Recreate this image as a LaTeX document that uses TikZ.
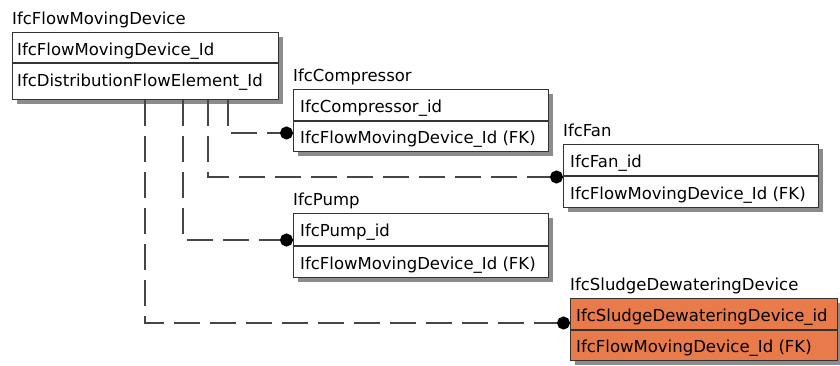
\documentclass[tikz,border=0pt]{standalone}
\usepackage{fontspec}
\setmainfont{DejaVu Sans}
\usetikzlibrary{arrows.meta,shadows}
\definecolor{entorange}{RGB}{233,122,74}
\definecolor{relgray}{RGB}{70,70,70}
\begin{document}
\begin{tikzpicture}[x=1pt,y=-1pt,
  font=\fontsize{16.5}{20}\selectfont,
  entbox/.style={draw=black!80, line width=1.4pt, fill=white, anchor=north west, inner sep=0pt,
    drop shadow={shadow xshift=4pt, shadow yshift=-4pt, fill=black!45, opacity=1}},
  entfield/.style={anchor=base west, inner sep=0pt},
  enttitle/.style={anchor=base west, inner sep=0pt},
  entdiv/.style={draw=black!80, line width=1.4pt},
  rel/.style={draw=relgray, line width=2pt, dash pattern=on 26pt off 10pt,
    -{Circle[length=13pt, color=black]}}
]
\useasboundingbox (0,0) rectangle (840,365);

% IfcFlowMovingDevice
\node[entbox, minimum width=266pt, minimum height=67pt] (fmd) at (12,32) {};
\draw[entdiv] ([yshift=-31pt]fmd.north west) -- ([yshift=-31pt]fmd.north east);
\node[enttitle] (fmdT) at ([yshift=8pt]fmd.north west) {IfcFlowMovingDevice};
\node[entfield] (fmdA) at ([xshift=5pt,yshift=-23pt]fmd.north west) {IfcFlowMovingDevice\_Id};
\node[entfield] (fmdB) at ([xshift=5pt,yshift=-54pt]fmd.north west) {IfcDistributionFlowElement\_Id};

% IfcCompressor
\node[entbox, minimum width=255pt, minimum height=62pt] (cmp) at (293,89) {};
\draw[entdiv] ([yshift=-32pt]cmp.north west) -- ([yshift=-32pt]cmp.north east);
\node[enttitle] (cmpT) at ([yshift=8pt]cmp.north west) {IfcCompressor};
\node[entfield] (cmpA) at ([xshift=7pt,yshift=-23pt]cmp.north west) {IfcCompressor\_id};
\node[entfield] (cmpB) at ([xshift=7pt,yshift=-54pt]cmp.north west) {IfcFlowMovingDevice\_Id (FK)};

% IfcFan
\node[entbox, minimum width=255pt, minimum height=63pt] (fan) at (563,144) {};
\draw[entdiv] ([yshift=-32pt]fan.north west) -- ([yshift=-32pt]fan.north east);
\node[enttitle] (fanT) at ([yshift=8pt]fan.north west) {IfcFan};
\node[entfield] (fanA) at ([xshift=7pt,yshift=-23pt]fan.north west) {IfcFan\_id};
\node[entfield] (fanB) at ([xshift=7pt,yshift=-55pt]fan.north west) {IfcFlowMovingDevice\_Id (FK)};

% IfcPump
\node[entbox, minimum width=255pt, minimum height=64pt] (pmp) at (293,213) {};
\draw[entdiv] ([yshift=-33pt]pmp.north west) -- ([yshift=-33pt]pmp.north east);
\node[enttitle] (pmpT) at ([yshift=8pt]pmp.north west) {IfcPump};
\node[entfield] (pmpA) at ([xshift=7pt,yshift=-23pt]pmp.north west) {IfcPump\_id};
\node[entfield] (pmpB) at ([xshift=7pt,yshift=-56pt]pmp.north west) {IfcFlowMovingDevice\_Id (FK)};

% IfcSludgeDewateringDevice
\node[entbox, fill=entorange, minimum width=267pt, minimum height=62pt] (sdd) at (570,298) {};
\draw[entdiv] ([yshift=-32pt]sdd.north west) -- ([yshift=-32pt]sdd.north east);
\node[enttitle] (sddT) at ([yshift=8pt]sdd.north west) {IfcSludgeDewateringDevice};
\node[entfield] (sddA) at ([xshift=6pt,yshift=-23pt]sdd.north west) {IfcSludgeDewateringDevice\_id};
\node[entfield] (sddB) at ([xshift=6pt,yshift=-54pt]sdd.north west) {IfcFlowMovingDevice\_Id (FK)};

% relationship start points on the bottom edge of IfcFlowMovingDevice
\coordinate (relC) at ([xshift=216pt]fmd.south west);
\coordinate (relF) at ([xshift=196pt]fmd.south west);
\coordinate (relP) at ([xshift=171pt]fmd.south west);
\coordinate (relS) at ([xshift=133pt]fmd.south west);

\draw[rel] (relC) |- ([yshift=-44pt]cmp.north west);
\draw[rel] (relF) |- ([yshift=-33pt]fan.north west);
\draw[rel] (relP) |- ([yshift=-27pt]pmp.north west);
\draw[rel] (relS) |- ([yshift=-25pt]sdd.north west);
\end{tikzpicture}
\end{document}
